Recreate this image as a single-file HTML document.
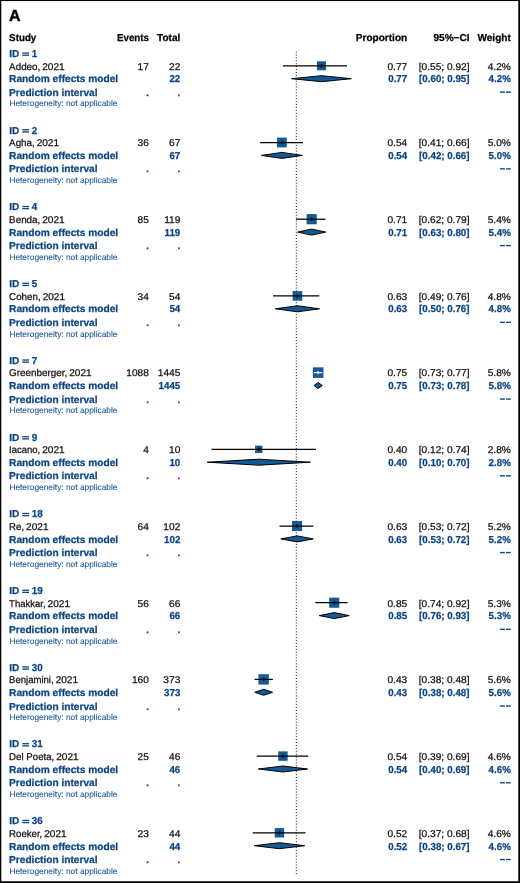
<!DOCTYPE html>
<html><head><meta charset="utf-8"><title>Forest plot</title>
<style>
html,body{margin:0;padding:0;background:#fff;}
body{width:520px;height:883px;overflow:hidden;position:relative;font-family:"Liberation Sans",sans-serif;}
svg{position:absolute;left:0;top:0;display:block;will-change:transform;}
svg text{font-family:"Liberation Sans",sans-serif;text-rendering:geometricPrecision;}
</style></head><body>
<svg width="520" height="883" viewBox="0 0 520 883">
<rect x="0" y="0" width="520" height="883" fill="#fff"/>
<line x1="296.3" x2="296.3" y1="51.6" y2="874.3" stroke="#111" stroke-width="1" stroke-dasharray="1 1.9132"/>
<text x="8.9" y="20.7" font-size="16" font-weight="bold" fill="#000" stroke="#000" stroke-width="0.45">A</text>
<text transform="translate(9.10,41.10) scale(0.975,1)" text-anchor="start" font-size="10.05" font-weight="bold" fill="#000" stroke="#000" stroke-width="0.25">Study</text>
<text transform="translate(148.90,41.10) scale(0.965,1)" text-anchor="end" font-size="10.05" font-weight="bold" fill="#000" stroke="#000" stroke-width="0.25">Events</text>
<text x="180.30" y="41.10" text-anchor="end" font-size="10.05" font-weight="bold" fill="#000" stroke="#000" stroke-width="0.25">Total</text>
<text x="407.20" y="41.10" text-anchor="end" font-size="10.05" font-weight="bold" fill="#000" stroke="#000" stroke-width="0.25">Proportion</text>
<text x="469.50" y="41.10" text-anchor="end" font-size="10.05" font-weight="bold" fill="#000" stroke="#000" stroke-width="0.25">95%&#8722;CI</text>
<text x="510.80" y="41.10" text-anchor="end" font-size="10.05" font-weight="bold" fill="#000" stroke="#000" stroke-width="0.25">Weight</text>
<text x="9.30" y="56.80" text-anchor="start" font-size="10.05" font-weight="bold" fill="#0c4585" stroke="#0c4585" stroke-width="0.25">ID</text>
<text transform="translate(31.70,56.80) scale(0.98,1)" text-anchor="start" font-size="10.05" font-weight="bold" fill="#0c4585" stroke="#0c4585" stroke-width="0.25">1</text>
<rect x="22.3" y="52.40" width="6.7" height="1.3" fill="#0c4585"/>
<rect x="22.3" y="54.55" width="6.7" height="1.3" fill="#0c4585"/>
<text transform="translate(9.10,69.50) scale(1.0042,1)" text-anchor="start" font-size="9.8" fill="#111" stroke="#111" stroke-width="0.25">Addeo,</text>
<text transform="translate(42.25,69.50) scale(1.03,1)" text-anchor="start" font-size="9.8" fill="#111" stroke="#111" stroke-width="0.25">2021</text>
<text transform="translate(148.90,69.50) scale(1.035,1)" text-anchor="end" font-size="9.8" fill="#111" stroke="#111" stroke-width="0.25">17</text>
<text transform="translate(180.30,69.50) scale(1.035,1)" text-anchor="end" font-size="9.8" fill="#111" stroke="#111" stroke-width="0.25">22</text>
<text transform="translate(407.20,69.50) scale(1.035,1)" text-anchor="end" font-size="9.8" fill="#111" stroke="#111" stroke-width="0.25">0.77</text>
<text transform="translate(469.50,69.50) scale(1.035,1)" text-anchor="end" font-size="9.8" fill="#111" stroke="#111" stroke-width="0.25">[0.55; 0.92]</text>
<text transform="translate(510.80,69.50) scale(1.035,1)" text-anchor="end" font-size="9.8" fill="#111" stroke="#111" stroke-width="0.25">4.2%</text>
<text transform="translate(9.10,82.25) scale(1.012,1)" text-anchor="start" font-size="10.05" font-weight="bold" fill="#0c4585" stroke="#0c4585" stroke-width="0.25">Random effects model</text>
<text transform="translate(180.30,82.25) scale(0.97,1)" text-anchor="end" font-size="10.05" font-weight="bold" fill="#0c4585" stroke="#0c4585" stroke-width="0.25">22</text>
<text transform="translate(407.20,82.25) scale(0.97,1)" text-anchor="end" font-size="10.05" font-weight="bold" fill="#0c4585" stroke="#0c4585" stroke-width="0.25">0.77</text>
<text transform="translate(469.50,82.25) scale(0.97,1)" text-anchor="end" font-size="10.05" font-weight="bold" fill="#0c4585" stroke="#0c4585" stroke-width="0.25">[0.60; 0.95]</text>
<text transform="translate(510.80,82.25) scale(0.97,1)" text-anchor="end" font-size="10.05" font-weight="bold" fill="#0c4585" stroke="#0c4585" stroke-width="0.25">4.2%</text>
<text transform="translate(9.10,95.60) scale(1.008,1)" text-anchor="start" font-size="10.05" font-weight="bold" fill="#0c4585" stroke="#0c4585" stroke-width="0.25">Prediction interval</text>
<text transform="translate(148.90,95.60) scale(0.97,1)" text-anchor="end" font-size="10.05" font-weight="bold" fill="#0c4585" stroke="#0c4585" stroke-width="0.25">.</text>
<text transform="translate(180.30,95.60) scale(0.97,1)" text-anchor="end" font-size="10.05" font-weight="bold" fill="#0c4585" stroke="#0c4585" stroke-width="0.25">.</text>
<rect x="499.9" y="91.45" width="5.0" height="1.35" fill="#0c4585"/>
<rect x="506.0" y="91.45" width="4.8" height="1.35" fill="#0c4585"/>
<text x="9.40" y="106.40" font-size="8.36" fill="#1a5696" stroke="#1a5696" stroke-width="0.08">Heterogeneity: not applicable</text>
<rect x="316.99" y="61.29" width="9.02" height="9.02" fill="#145a96"/>
<line x1="282.94" x2="347.04" y1="65.80" y2="65.80" stroke="#000" stroke-width="1.25"/>
<line x1="321.50" x2="321.50" y1="64.10" y2="67.50" stroke="#000" stroke-width="1.25"/>
<polygon points="291.63,78.70 321.50,75.70 351.37,78.70 321.50,81.70" fill="#145a96" stroke="#000" stroke-width="1" stroke-linejoin="miter"/>
<text x="9.30" y="133.54" text-anchor="start" font-size="10.05" font-weight="bold" fill="#0c4585" stroke="#0c4585" stroke-width="0.25">ID</text>
<text transform="translate(31.70,133.54) scale(0.98,1)" text-anchor="start" font-size="10.05" font-weight="bold" fill="#0c4585" stroke="#0c4585" stroke-width="0.25">2</text>
<rect x="22.3" y="129.14" width="6.7" height="1.3" fill="#0c4585"/>
<rect x="22.3" y="131.29" width="6.7" height="1.3" fill="#0c4585"/>
<text transform="translate(9.10,146.24) scale(0.999,1)" text-anchor="start" font-size="9.8" fill="#111" stroke="#111" stroke-width="0.25">Agha,</text>
<text transform="translate(36.65,146.24) scale(1.03,1)" text-anchor="start" font-size="9.8" fill="#111" stroke="#111" stroke-width="0.25">2021</text>
<text transform="translate(148.90,146.24) scale(1.035,1)" text-anchor="end" font-size="9.8" fill="#111" stroke="#111" stroke-width="0.25">36</text>
<text transform="translate(180.30,146.24) scale(1.035,1)" text-anchor="end" font-size="9.8" fill="#111" stroke="#111" stroke-width="0.25">67</text>
<text transform="translate(407.20,146.24) scale(1.035,1)" text-anchor="end" font-size="9.8" fill="#111" stroke="#111" stroke-width="0.25">0.54</text>
<text transform="translate(469.50,146.24) scale(1.035,1)" text-anchor="end" font-size="9.8" fill="#111" stroke="#111" stroke-width="0.25">[0.41; 0.66]</text>
<text transform="translate(510.80,146.24) scale(1.035,1)" text-anchor="end" font-size="9.8" fill="#111" stroke="#111" stroke-width="0.25">5.0%</text>
<text transform="translate(9.10,158.99) scale(1.012,1)" text-anchor="start" font-size="10.05" font-weight="bold" fill="#0c4585" stroke="#0c4585" stroke-width="0.25">Random effects model</text>
<text transform="translate(180.30,158.99) scale(0.97,1)" text-anchor="end" font-size="10.05" font-weight="bold" fill="#0c4585" stroke="#0c4585" stroke-width="0.25">67</text>
<text transform="translate(407.20,158.99) scale(0.97,1)" text-anchor="end" font-size="10.05" font-weight="bold" fill="#0c4585" stroke="#0c4585" stroke-width="0.25">0.54</text>
<text transform="translate(469.50,158.99) scale(0.97,1)" text-anchor="end" font-size="10.05" font-weight="bold" fill="#0c4585" stroke="#0c4585" stroke-width="0.25">[0.42; 0.66]</text>
<text transform="translate(510.80,158.99) scale(0.97,1)" text-anchor="end" font-size="10.05" font-weight="bold" fill="#0c4585" stroke="#0c4585" stroke-width="0.25">5.0%</text>
<text transform="translate(9.10,172.34) scale(1.008,1)" text-anchor="start" font-size="10.05" font-weight="bold" fill="#0c4585" stroke="#0c4585" stroke-width="0.25">Prediction interval</text>
<text transform="translate(148.90,172.34) scale(0.97,1)" text-anchor="end" font-size="10.05" font-weight="bold" fill="#0c4585" stroke="#0c4585" stroke-width="0.25">.</text>
<text transform="translate(180.30,172.34) scale(0.97,1)" text-anchor="end" font-size="10.05" font-weight="bold" fill="#0c4585" stroke="#0c4585" stroke-width="0.25">.</text>
<rect x="499.9" y="168.19" width="5.0" height="1.35" fill="#0c4585"/>
<rect x="506.0" y="168.19" width="4.8" height="1.35" fill="#0c4585"/>
<text x="9.40" y="183.14" font-size="8.36" fill="#1a5696" stroke="#1a5696" stroke-width="0.08">Heterogeneity: not applicable</text>
<rect x="276.96" y="137.58" width="9.84" height="9.84" fill="#145a96"/>
<line x1="260.20" x2="302.98" y1="142.50" y2="142.50" stroke="#000" stroke-width="1.25"/>
<line x1="281.88" x2="281.88" y1="140.80" y2="144.20" stroke="#000" stroke-width="1.25"/>
<polygon points="261.39,155.40 281.88,152.40 302.37,155.40 281.88,158.40" fill="#145a96" stroke="#000" stroke-width="1" stroke-linejoin="miter"/>
<text x="9.30" y="210.28" text-anchor="start" font-size="10.05" font-weight="bold" fill="#0c4585" stroke="#0c4585" stroke-width="0.25">ID</text>
<text transform="translate(31.70,210.28) scale(0.98,1)" text-anchor="start" font-size="10.05" font-weight="bold" fill="#0c4585" stroke="#0c4585" stroke-width="0.25">4</text>
<rect x="22.3" y="205.88" width="6.7" height="1.3" fill="#0c4585"/>
<rect x="22.3" y="208.03" width="6.7" height="1.3" fill="#0c4585"/>
<text transform="translate(9.10,222.98) scale(1.0042,1)" text-anchor="start" font-size="9.8" fill="#111" stroke="#111" stroke-width="0.25">Benda,</text>
<text transform="translate(42.25,222.98) scale(1.03,1)" text-anchor="start" font-size="9.8" fill="#111" stroke="#111" stroke-width="0.25">2021</text>
<text transform="translate(148.90,222.98) scale(1.035,1)" text-anchor="end" font-size="9.8" fill="#111" stroke="#111" stroke-width="0.25">85</text>
<text transform="translate(180.30,222.98) scale(1.035,1)" text-anchor="end" font-size="9.8" fill="#111" stroke="#111" stroke-width="0.25">119</text>
<text transform="translate(407.20,222.98) scale(1.035,1)" text-anchor="end" font-size="9.8" fill="#111" stroke="#111" stroke-width="0.25">0.71</text>
<text transform="translate(469.50,222.98) scale(1.035,1)" text-anchor="end" font-size="9.8" fill="#111" stroke="#111" stroke-width="0.25">[0.62; 0.79]</text>
<text transform="translate(510.80,222.98) scale(1.035,1)" text-anchor="end" font-size="9.8" fill="#111" stroke="#111" stroke-width="0.25">5.4%</text>
<text transform="translate(9.10,235.73) scale(1.012,1)" text-anchor="start" font-size="10.05" font-weight="bold" fill="#0c4585" stroke="#0c4585" stroke-width="0.25">Random effects model</text>
<text transform="translate(180.30,235.73) scale(0.97,1)" text-anchor="end" font-size="10.05" font-weight="bold" fill="#0c4585" stroke="#0c4585" stroke-width="0.25">119</text>
<text transform="translate(407.20,235.73) scale(0.97,1)" text-anchor="end" font-size="10.05" font-weight="bold" fill="#0c4585" stroke="#0c4585" stroke-width="0.25">0.71</text>
<text transform="translate(469.50,235.73) scale(0.97,1)" text-anchor="end" font-size="10.05" font-weight="bold" fill="#0c4585" stroke="#0c4585" stroke-width="0.25">[0.63; 0.80]</text>
<text transform="translate(510.80,235.73) scale(0.97,1)" text-anchor="end" font-size="10.05" font-weight="bold" fill="#0c4585" stroke="#0c4585" stroke-width="0.25">5.4%</text>
<text transform="translate(9.10,249.08) scale(1.008,1)" text-anchor="start" font-size="10.05" font-weight="bold" fill="#0c4585" stroke="#0c4585" stroke-width="0.25">Prediction interval</text>
<text transform="translate(148.90,249.08) scale(0.97,1)" text-anchor="end" font-size="10.05" font-weight="bold" fill="#0c4585" stroke="#0c4585" stroke-width="0.25">.</text>
<text transform="translate(180.30,249.08) scale(0.97,1)" text-anchor="end" font-size="10.05" font-weight="bold" fill="#0c4585" stroke="#0c4585" stroke-width="0.25">.</text>
<rect x="499.9" y="244.93" width="5.0" height="1.35" fill="#0c4585"/>
<rect x="506.0" y="244.93" width="4.8" height="1.35" fill="#0c4585"/>
<text x="9.40" y="259.88" font-size="8.36" fill="#1a5696" stroke="#1a5696" stroke-width="0.08">Heterogeneity: not applicable</text>
<rect x="306.55" y="214.09" width="10.22" height="10.22" fill="#145a96"/>
<line x1="296.06" x2="325.42" y1="219.20" y2="219.20" stroke="#000" stroke-width="1.25"/>
<line x1="311.66" x2="311.66" y1="217.50" y2="220.90" stroke="#000" stroke-width="1.25"/>
<polygon points="297.60,232.10 311.66,229.10 325.72,232.10 311.66,235.10" fill="#145a96" stroke="#000" stroke-width="1" stroke-linejoin="miter"/>
<text x="9.30" y="287.02" text-anchor="start" font-size="10.05" font-weight="bold" fill="#0c4585" stroke="#0c4585" stroke-width="0.25">ID</text>
<text transform="translate(31.70,287.02) scale(0.98,1)" text-anchor="start" font-size="10.05" font-weight="bold" fill="#0c4585" stroke="#0c4585" stroke-width="0.25">5</text>
<rect x="22.3" y="282.62" width="6.7" height="1.3" fill="#0c4585"/>
<rect x="22.3" y="284.77" width="6.7" height="1.3" fill="#0c4585"/>
<text transform="translate(9.10,299.72) scale(0.9994,1)" text-anchor="start" font-size="9.8" fill="#111" stroke="#111" stroke-width="0.25">Cohen,</text>
<text transform="translate(42.65,299.72) scale(1.03,1)" text-anchor="start" font-size="9.8" fill="#111" stroke="#111" stroke-width="0.25">2021</text>
<text transform="translate(148.90,299.72) scale(1.035,1)" text-anchor="end" font-size="9.8" fill="#111" stroke="#111" stroke-width="0.25">34</text>
<text transform="translate(180.30,299.72) scale(1.035,1)" text-anchor="end" font-size="9.8" fill="#111" stroke="#111" stroke-width="0.25">54</text>
<text transform="translate(407.20,299.72) scale(1.035,1)" text-anchor="end" font-size="9.8" fill="#111" stroke="#111" stroke-width="0.25">0.63</text>
<text transform="translate(469.50,299.72) scale(1.035,1)" text-anchor="end" font-size="9.8" fill="#111" stroke="#111" stroke-width="0.25">[0.49; 0.76]</text>
<text transform="translate(510.80,299.72) scale(1.035,1)" text-anchor="end" font-size="9.8" fill="#111" stroke="#111" stroke-width="0.25">4.8%</text>
<text transform="translate(9.10,312.47) scale(1.012,1)" text-anchor="start" font-size="10.05" font-weight="bold" fill="#0c4585" stroke="#0c4585" stroke-width="0.25">Random effects model</text>
<text transform="translate(180.30,312.47) scale(0.97,1)" text-anchor="end" font-size="10.05" font-weight="bold" fill="#0c4585" stroke="#0c4585" stroke-width="0.25">54</text>
<text transform="translate(407.20,312.47) scale(0.97,1)" text-anchor="end" font-size="10.05" font-weight="bold" fill="#0c4585" stroke="#0c4585" stroke-width="0.25">0.63</text>
<text transform="translate(469.50,312.47) scale(0.97,1)" text-anchor="end" font-size="10.05" font-weight="bold" fill="#0c4585" stroke="#0c4585" stroke-width="0.25">[0.50; 0.76]</text>
<text transform="translate(510.80,312.47) scale(0.97,1)" text-anchor="end" font-size="10.05" font-weight="bold" fill="#0c4585" stroke="#0c4585" stroke-width="0.25">4.8%</text>
<text transform="translate(9.10,325.82) scale(1.008,1)" text-anchor="start" font-size="10.05" font-weight="bold" fill="#0c4585" stroke="#0c4585" stroke-width="0.25">Prediction interval</text>
<text transform="translate(148.90,325.82) scale(0.97,1)" text-anchor="end" font-size="10.05" font-weight="bold" fill="#0c4585" stroke="#0c4585" stroke-width="0.25">.</text>
<text transform="translate(180.30,325.82) scale(0.97,1)" text-anchor="end" font-size="10.05" font-weight="bold" fill="#0c4585" stroke="#0c4585" stroke-width="0.25">.</text>
<rect x="499.9" y="321.67" width="5.0" height="1.35" fill="#0c4585"/>
<rect x="506.0" y="321.67" width="4.8" height="1.35" fill="#0c4585"/>
<text x="9.40" y="336.62" font-size="8.36" fill="#1a5696" stroke="#1a5696" stroke-width="0.08">Heterogeneity: not applicable</text>
<rect x="292.60" y="291.08" width="9.64" height="9.64" fill="#145a96"/>
<line x1="273.03" x2="319.32" y1="295.90" y2="295.90" stroke="#000" stroke-width="1.25"/>
<line x1="297.42" x2="297.42" y1="294.20" y2="297.60" stroke="#000" stroke-width="1.25"/>
<polygon points="275.34,308.80 297.42,305.80 319.49,308.80 297.42,311.80" fill="#145a96" stroke="#000" stroke-width="1" stroke-linejoin="miter"/>
<text x="9.30" y="363.76" text-anchor="start" font-size="10.05" font-weight="bold" fill="#0c4585" stroke="#0c4585" stroke-width="0.25">ID</text>
<text transform="translate(31.70,363.76) scale(0.98,1)" text-anchor="start" font-size="10.05" font-weight="bold" fill="#0c4585" stroke="#0c4585" stroke-width="0.25">7</text>
<rect x="22.3" y="359.36" width="6.7" height="1.3" fill="#0c4585"/>
<rect x="22.3" y="361.51" width="6.7" height="1.3" fill="#0c4585"/>
<text transform="translate(9.10,376.46) scale(1.0076,1)" text-anchor="start" font-size="9.8" fill="#111" stroke="#111" stroke-width="0.25">Greenberger,</text>
<text transform="translate(69.25,376.46) scale(1.03,1)" text-anchor="start" font-size="9.8" fill="#111" stroke="#111" stroke-width="0.25">2021</text>
<text transform="translate(148.90,376.46) scale(1.035,1)" text-anchor="end" font-size="9.8" fill="#111" stroke="#111" stroke-width="0.25">1088</text>
<text transform="translate(180.30,376.46) scale(1.035,1)" text-anchor="end" font-size="9.8" fill="#111" stroke="#111" stroke-width="0.25">1445</text>
<text transform="translate(407.20,376.46) scale(1.035,1)" text-anchor="end" font-size="9.8" fill="#111" stroke="#111" stroke-width="0.25">0.75</text>
<text transform="translate(469.50,376.46) scale(1.035,1)" text-anchor="end" font-size="9.8" fill="#111" stroke="#111" stroke-width="0.25">[0.73; 0.77]</text>
<text transform="translate(510.80,376.46) scale(1.035,1)" text-anchor="end" font-size="9.8" fill="#111" stroke="#111" stroke-width="0.25">5.8%</text>
<text transform="translate(9.10,389.21) scale(1.012,1)" text-anchor="start" font-size="10.05" font-weight="bold" fill="#0c4585" stroke="#0c4585" stroke-width="0.25">Random effects model</text>
<text transform="translate(180.30,389.21) scale(0.97,1)" text-anchor="end" font-size="10.05" font-weight="bold" fill="#0c4585" stroke="#0c4585" stroke-width="0.25">1445</text>
<text transform="translate(407.20,389.21) scale(0.97,1)" text-anchor="end" font-size="10.05" font-weight="bold" fill="#0c4585" stroke="#0c4585" stroke-width="0.25">0.75</text>
<text transform="translate(469.50,389.21) scale(0.97,1)" text-anchor="end" font-size="10.05" font-weight="bold" fill="#0c4585" stroke="#0c4585" stroke-width="0.25">[0.73; 0.78]</text>
<text transform="translate(510.80,389.21) scale(0.97,1)" text-anchor="end" font-size="10.05" font-weight="bold" fill="#0c4585" stroke="#0c4585" stroke-width="0.25">5.8%</text>
<text transform="translate(9.10,402.56) scale(1.008,1)" text-anchor="start" font-size="10.05" font-weight="bold" fill="#0c4585" stroke="#0c4585" stroke-width="0.25">Prediction interval</text>
<text transform="translate(148.90,402.56) scale(0.97,1)" text-anchor="end" font-size="10.05" font-weight="bold" fill="#0c4585" stroke="#0c4585" stroke-width="0.25">.</text>
<text transform="translate(180.30,402.56) scale(0.97,1)" text-anchor="end" font-size="10.05" font-weight="bold" fill="#0c4585" stroke="#0c4585" stroke-width="0.25">.</text>
<rect x="499.9" y="398.41" width="5.0" height="1.35" fill="#0c4585"/>
<rect x="506.0" y="398.41" width="4.8" height="1.35" fill="#0c4585"/>
<text x="9.40" y="413.36" font-size="8.36" fill="#1a5696" stroke="#1a5696" stroke-width="0.08">Heterogeneity: not applicable</text>
<rect x="312.87" y="367.30" width="10.60" height="10.60" fill="#145a96"/>
<line x1="313.83" x2="322.33" y1="372.60" y2="372.60" stroke="#fff" stroke-width="1.25"/>
<line x1="318.17" x2="318.17" y1="370.90" y2="374.30" stroke="#fff" stroke-width="1.25"/>
<polygon points="314.03,385.50 318.17,382.50 322.31,385.50 318.17,388.50" fill="#145a96" stroke="#000" stroke-width="1" stroke-linejoin="miter"/>
<text x="9.30" y="440.50" text-anchor="start" font-size="10.05" font-weight="bold" fill="#0c4585" stroke="#0c4585" stroke-width="0.25">ID</text>
<text transform="translate(31.70,440.50) scale(0.98,1)" text-anchor="start" font-size="10.05" font-weight="bold" fill="#0c4585" stroke="#0c4585" stroke-width="0.25">9</text>
<rect x="22.3" y="436.10" width="6.7" height="1.3" fill="#0c4585"/>
<rect x="22.3" y="438.25" width="6.7" height="1.3" fill="#0c4585"/>
<text transform="translate(9.10,453.20) scale(0.9692,1)" text-anchor="start" font-size="9.8" fill="#111" stroke="#111" stroke-width="0.25">Iacano,</text>
<text transform="translate(42.25,453.20) scale(1.03,1)" text-anchor="start" font-size="9.8" fill="#111" stroke="#111" stroke-width="0.25">2021</text>
<text transform="translate(148.90,453.20) scale(1.035,1)" text-anchor="end" font-size="9.8" fill="#111" stroke="#111" stroke-width="0.25">4</text>
<text transform="translate(180.30,453.20) scale(1.035,1)" text-anchor="end" font-size="9.8" fill="#111" stroke="#111" stroke-width="0.25">10</text>
<text transform="translate(407.20,453.20) scale(1.035,1)" text-anchor="end" font-size="9.8" fill="#111" stroke="#111" stroke-width="0.25">0.40</text>
<text transform="translate(469.50,453.20) scale(1.035,1)" text-anchor="end" font-size="9.8" fill="#111" stroke="#111" stroke-width="0.25">[0.12; 0.74]</text>
<text transform="translate(510.80,453.20) scale(1.035,1)" text-anchor="end" font-size="9.8" fill="#111" stroke="#111" stroke-width="0.25">2.8%</text>
<text transform="translate(9.10,465.95) scale(1.012,1)" text-anchor="start" font-size="10.05" font-weight="bold" fill="#0c4585" stroke="#0c4585" stroke-width="0.25">Random effects model</text>
<text transform="translate(180.30,465.95) scale(0.97,1)" text-anchor="end" font-size="10.05" font-weight="bold" fill="#0c4585" stroke="#0c4585" stroke-width="0.25">10</text>
<text transform="translate(407.20,465.95) scale(0.97,1)" text-anchor="end" font-size="10.05" font-weight="bold" fill="#0c4585" stroke="#0c4585" stroke-width="0.25">0.40</text>
<text transform="translate(469.50,465.95) scale(0.97,1)" text-anchor="end" font-size="10.05" font-weight="bold" fill="#0c4585" stroke="#0c4585" stroke-width="0.25">[0.10; 0.70]</text>
<text transform="translate(510.80,465.95) scale(0.97,1)" text-anchor="end" font-size="10.05" font-weight="bold" fill="#0c4585" stroke="#0c4585" stroke-width="0.25">2.8%</text>
<text transform="translate(9.10,479.30) scale(1.008,1)" text-anchor="start" font-size="10.05" font-weight="bold" fill="#0c4585" stroke="#0c4585" stroke-width="0.25">Prediction interval</text>
<text transform="translate(148.90,479.30) scale(0.97,1)" text-anchor="end" font-size="10.05" font-weight="bold" fill="#0c4585" stroke="#0c4585" stroke-width="0.25">.</text>
<text transform="translate(180.30,479.30) scale(0.97,1)" text-anchor="end" font-size="10.05" font-weight="bold" fill="#0c4585" stroke="#0c4585" stroke-width="0.25">.</text>
<rect x="499.9" y="475.15" width="5.0" height="1.35" fill="#0c4585"/>
<rect x="506.0" y="475.15" width="4.8" height="1.35" fill="#0c4585"/>
<text x="9.40" y="490.10" font-size="8.36" fill="#1a5696" stroke="#1a5696" stroke-width="0.08">Heterogeneity: not applicable</text>
<rect x="255.09" y="445.62" width="7.36" height="7.36" fill="#145a96"/>
<line x1="211.46" x2="316.04" y1="449.30" y2="449.30" stroke="#000" stroke-width="1.25"/>
<line x1="258.77" x2="258.77" y1="447.60" y2="451.00" stroke="#000" stroke-width="1.25"/>
<polygon points="207.27,462.20 258.77,459.20 310.27,462.20 258.77,465.20" fill="#145a96" stroke="#000" stroke-width="1" stroke-linejoin="miter"/>
<text x="9.30" y="517.24" text-anchor="start" font-size="10.05" font-weight="bold" fill="#0c4585" stroke="#0c4585" stroke-width="0.25">ID</text>
<text transform="translate(31.70,517.24) scale(0.98,1)" text-anchor="start" font-size="10.05" font-weight="bold" fill="#0c4585" stroke="#0c4585" stroke-width="0.25">18</text>
<rect x="22.3" y="512.84" width="6.7" height="1.3" fill="#0c4585"/>
<rect x="22.3" y="514.99" width="6.7" height="1.3" fill="#0c4585"/>
<text transform="translate(9.10,529.94) scale(0.9814,1)" text-anchor="start" font-size="9.8" fill="#111" stroke="#111" stroke-width="0.25">Re,</text>
<text transform="translate(26.05,529.94) scale(1.03,1)" text-anchor="start" font-size="9.8" fill="#111" stroke="#111" stroke-width="0.25">2021</text>
<text transform="translate(148.90,529.94) scale(1.035,1)" text-anchor="end" font-size="9.8" fill="#111" stroke="#111" stroke-width="0.25">64</text>
<text transform="translate(180.30,529.94) scale(1.035,1)" text-anchor="end" font-size="9.8" fill="#111" stroke="#111" stroke-width="0.25">102</text>
<text transform="translate(407.20,529.94) scale(1.035,1)" text-anchor="end" font-size="9.8" fill="#111" stroke="#111" stroke-width="0.25">0.63</text>
<text transform="translate(469.50,529.94) scale(1.035,1)" text-anchor="end" font-size="9.8" fill="#111" stroke="#111" stroke-width="0.25">[0.53; 0.72]</text>
<text transform="translate(510.80,529.94) scale(1.035,1)" text-anchor="end" font-size="9.8" fill="#111" stroke="#111" stroke-width="0.25">5.2%</text>
<text transform="translate(9.10,542.69) scale(1.012,1)" text-anchor="start" font-size="10.05" font-weight="bold" fill="#0c4585" stroke="#0c4585" stroke-width="0.25">Random effects model</text>
<text transform="translate(180.30,542.69) scale(0.97,1)" text-anchor="end" font-size="10.05" font-weight="bold" fill="#0c4585" stroke="#0c4585" stroke-width="0.25">102</text>
<text transform="translate(407.20,542.69) scale(0.97,1)" text-anchor="end" font-size="10.05" font-weight="bold" fill="#0c4585" stroke="#0c4585" stroke-width="0.25">0.63</text>
<text transform="translate(469.50,542.69) scale(0.97,1)" text-anchor="end" font-size="10.05" font-weight="bold" fill="#0c4585" stroke="#0c4585" stroke-width="0.25">[0.53; 0.72]</text>
<text transform="translate(510.80,542.69) scale(0.97,1)" text-anchor="end" font-size="10.05" font-weight="bold" fill="#0c4585" stroke="#0c4585" stroke-width="0.25">5.2%</text>
<text transform="translate(9.10,556.04) scale(1.008,1)" text-anchor="start" font-size="10.05" font-weight="bold" fill="#0c4585" stroke="#0c4585" stroke-width="0.25">Prediction interval</text>
<text transform="translate(148.90,556.04) scale(0.97,1)" text-anchor="end" font-size="10.05" font-weight="bold" fill="#0c4585" stroke="#0c4585" stroke-width="0.25">.</text>
<text transform="translate(180.30,556.04) scale(0.97,1)" text-anchor="end" font-size="10.05" font-weight="bold" fill="#0c4585" stroke="#0c4585" stroke-width="0.25">.</text>
<rect x="499.9" y="551.89" width="5.0" height="1.35" fill="#0c4585"/>
<rect x="506.0" y="551.89" width="4.8" height="1.35" fill="#0c4585"/>
<text x="9.40" y="566.84" font-size="8.36" fill="#1a5696" stroke="#1a5696" stroke-width="0.08">Heterogeneity: not applicable</text>
<rect x="292.03" y="520.98" width="10.03" height="10.03" fill="#145a96"/>
<line x1="279.55" x2="313.27" y1="526.00" y2="526.00" stroke="#000" stroke-width="1.25"/>
<line x1="297.05" x2="297.05" y1="524.30" y2="527.70" stroke="#000" stroke-width="1.25"/>
<polygon points="280.86,538.90 297.05,535.90 313.24,538.90 297.05,541.90" fill="#145a96" stroke="#000" stroke-width="1" stroke-linejoin="miter"/>
<text x="9.30" y="593.98" text-anchor="start" font-size="10.05" font-weight="bold" fill="#0c4585" stroke="#0c4585" stroke-width="0.25">ID</text>
<text transform="translate(31.70,593.98) scale(0.98,1)" text-anchor="start" font-size="10.05" font-weight="bold" fill="#0c4585" stroke="#0c4585" stroke-width="0.25">19</text>
<rect x="22.3" y="589.58" width="6.7" height="1.3" fill="#0c4585"/>
<rect x="22.3" y="591.73" width="6.7" height="1.3" fill="#0c4585"/>
<text transform="translate(9.10,606.68) scale(0.97,1)" text-anchor="start" font-size="9.8" fill="#111" stroke="#111" stroke-width="0.25">Thakkar,</text>
<text transform="translate(47.55,606.68) scale(1.03,1)" text-anchor="start" font-size="9.8" fill="#111" stroke="#111" stroke-width="0.25">2021</text>
<text transform="translate(148.90,606.68) scale(1.035,1)" text-anchor="end" font-size="9.8" fill="#111" stroke="#111" stroke-width="0.25">56</text>
<text transform="translate(180.30,606.68) scale(1.035,1)" text-anchor="end" font-size="9.8" fill="#111" stroke="#111" stroke-width="0.25">66</text>
<text transform="translate(407.20,606.68) scale(1.035,1)" text-anchor="end" font-size="9.8" fill="#111" stroke="#111" stroke-width="0.25">0.85</text>
<text transform="translate(469.50,606.68) scale(1.035,1)" text-anchor="end" font-size="9.8" fill="#111" stroke="#111" stroke-width="0.25">[0.74; 0.92]</text>
<text transform="translate(510.80,606.68) scale(1.035,1)" text-anchor="end" font-size="9.8" fill="#111" stroke="#111" stroke-width="0.25">5.3%</text>
<text transform="translate(9.10,619.43) scale(1.012,1)" text-anchor="start" font-size="10.05" font-weight="bold" fill="#0c4585" stroke="#0c4585" stroke-width="0.25">Random effects model</text>
<text transform="translate(180.30,619.43) scale(0.97,1)" text-anchor="end" font-size="10.05" font-weight="bold" fill="#0c4585" stroke="#0c4585" stroke-width="0.25">66</text>
<text transform="translate(407.20,619.43) scale(0.97,1)" text-anchor="end" font-size="10.05" font-weight="bold" fill="#0c4585" stroke="#0c4585" stroke-width="0.25">0.85</text>
<text transform="translate(469.50,619.43) scale(0.97,1)" text-anchor="end" font-size="10.05" font-weight="bold" fill="#0c4585" stroke="#0c4585" stroke-width="0.25">[0.76; 0.93]</text>
<text transform="translate(510.80,619.43) scale(0.97,1)" text-anchor="end" font-size="10.05" font-weight="bold" fill="#0c4585" stroke="#0c4585" stroke-width="0.25">5.3%</text>
<text transform="translate(9.10,632.78) scale(1.008,1)" text-anchor="start" font-size="10.05" font-weight="bold" fill="#0c4585" stroke="#0c4585" stroke-width="0.25">Prediction interval</text>
<text transform="translate(148.90,632.78) scale(0.97,1)" text-anchor="end" font-size="10.05" font-weight="bold" fill="#0c4585" stroke="#0c4585" stroke-width="0.25">.</text>
<text transform="translate(180.30,632.78) scale(0.97,1)" text-anchor="end" font-size="10.05" font-weight="bold" fill="#0c4585" stroke="#0c4585" stroke-width="0.25">.</text>
<rect x="499.9" y="628.63" width="5.0" height="1.35" fill="#0c4585"/>
<rect x="506.0" y="628.63" width="4.8" height="1.35" fill="#0c4585"/>
<text x="9.40" y="643.58" font-size="8.36" fill="#1a5696" stroke="#1a5696" stroke-width="0.08">Heterogeneity: not applicable</text>
<rect x="329.19" y="597.64" width="10.13" height="10.13" fill="#145a96"/>
<line x1="315.37" x2="347.56" y1="602.70" y2="602.70" stroke="#000" stroke-width="1.25"/>
<line x1="334.25" x2="334.25" y1="601.00" y2="604.40" stroke="#000" stroke-width="1.25"/>
<polygon points="319.29,615.60 334.25,612.60 349.21,615.60 334.25,618.60" fill="#145a96" stroke="#000" stroke-width="1" stroke-linejoin="miter"/>
<text x="9.30" y="670.72" text-anchor="start" font-size="10.05" font-weight="bold" fill="#0c4585" stroke="#0c4585" stroke-width="0.25">ID</text>
<text transform="translate(31.70,670.72) scale(0.98,1)" text-anchor="start" font-size="10.05" font-weight="bold" fill="#0c4585" stroke="#0c4585" stroke-width="0.25">30</text>
<rect x="22.3" y="666.32" width="6.7" height="1.3" fill="#0c4585"/>
<rect x="22.3" y="668.47" width="6.7" height="1.3" fill="#0c4585"/>
<text transform="translate(9.10,683.42) scale(0.9738,1)" text-anchor="start" font-size="9.8" fill="#111" stroke="#111" stroke-width="0.25">Benjamini,</text>
<text transform="translate(55.65,683.42) scale(1.03,1)" text-anchor="start" font-size="9.8" fill="#111" stroke="#111" stroke-width="0.25">2021</text>
<text transform="translate(148.90,683.42) scale(1.035,1)" text-anchor="end" font-size="9.8" fill="#111" stroke="#111" stroke-width="0.25">160</text>
<text transform="translate(180.30,683.42) scale(1.035,1)" text-anchor="end" font-size="9.8" fill="#111" stroke="#111" stroke-width="0.25">373</text>
<text transform="translate(407.20,683.42) scale(1.035,1)" text-anchor="end" font-size="9.8" fill="#111" stroke="#111" stroke-width="0.25">0.43</text>
<text transform="translate(469.50,683.42) scale(1.035,1)" text-anchor="end" font-size="9.8" fill="#111" stroke="#111" stroke-width="0.25">[0.38; 0.48]</text>
<text transform="translate(510.80,683.42) scale(1.035,1)" text-anchor="end" font-size="9.8" fill="#111" stroke="#111" stroke-width="0.25">5.6%</text>
<text transform="translate(9.10,696.17) scale(1.012,1)" text-anchor="start" font-size="10.05" font-weight="bold" fill="#0c4585" stroke="#0c4585" stroke-width="0.25">Random effects model</text>
<text transform="translate(180.30,696.17) scale(0.97,1)" text-anchor="end" font-size="10.05" font-weight="bold" fill="#0c4585" stroke="#0c4585" stroke-width="0.25">373</text>
<text transform="translate(407.20,696.17) scale(0.97,1)" text-anchor="end" font-size="10.05" font-weight="bold" fill="#0c4585" stroke="#0c4585" stroke-width="0.25">0.43</text>
<text transform="translate(469.50,696.17) scale(0.97,1)" text-anchor="end" font-size="10.05" font-weight="bold" fill="#0c4585" stroke="#0c4585" stroke-width="0.25">[0.38; 0.48]</text>
<text transform="translate(510.80,696.17) scale(0.97,1)" text-anchor="end" font-size="10.05" font-weight="bold" fill="#0c4585" stroke="#0c4585" stroke-width="0.25">5.6%</text>
<text transform="translate(9.10,709.52) scale(1.008,1)" text-anchor="start" font-size="10.05" font-weight="bold" fill="#0c4585" stroke="#0c4585" stroke-width="0.25">Prediction interval</text>
<text transform="translate(148.90,709.52) scale(0.97,1)" text-anchor="end" font-size="10.05" font-weight="bold" fill="#0c4585" stroke="#0c4585" stroke-width="0.25">.</text>
<text transform="translate(180.30,709.52) scale(0.97,1)" text-anchor="end" font-size="10.05" font-weight="bold" fill="#0c4585" stroke="#0c4585" stroke-width="0.25">.</text>
<rect x="499.9" y="705.37" width="5.0" height="1.35" fill="#0c4585"/>
<rect x="506.0" y="705.37" width="4.8" height="1.35" fill="#0c4585"/>
<text x="9.40" y="720.32" font-size="8.36" fill="#1a5696" stroke="#1a5696" stroke-width="0.08">Heterogeneity: not applicable</text>
<rect x="258.44" y="674.19" width="10.41" height="10.41" fill="#145a96"/>
<line x1="254.64" x2="272.84" y1="679.40" y2="679.40" stroke="#000" stroke-width="1.25"/>
<line x1="263.64" x2="263.64" y1="677.70" y2="681.10" stroke="#000" stroke-width="1.25"/>
<polygon points="254.79,692.30 263.64,689.30 272.50,692.30 263.64,695.30" fill="#145a96" stroke="#000" stroke-width="1" stroke-linejoin="miter"/>
<text x="9.30" y="747.46" text-anchor="start" font-size="10.05" font-weight="bold" fill="#0c4585" stroke="#0c4585" stroke-width="0.25">ID</text>
<text transform="translate(31.70,747.46) scale(0.98,1)" text-anchor="start" font-size="10.05" font-weight="bold" fill="#0c4585" stroke="#0c4585" stroke-width="0.25">31</text>
<rect x="22.3" y="743.06" width="6.7" height="1.3" fill="#0c4585"/>
<rect x="22.3" y="745.21" width="6.7" height="1.3" fill="#0c4585"/>
<text transform="translate(9.10,760.16) scale(0.9871,1)" text-anchor="start" font-size="9.8" fill="#111" stroke="#111" stroke-width="0.25">Del Poeta,</text>
<text transform="translate(56.25,760.16) scale(1.03,1)" text-anchor="start" font-size="9.8" fill="#111" stroke="#111" stroke-width="0.25">2021</text>
<text transform="translate(148.90,760.16) scale(1.035,1)" text-anchor="end" font-size="9.8" fill="#111" stroke="#111" stroke-width="0.25">25</text>
<text transform="translate(180.30,760.16) scale(1.035,1)" text-anchor="end" font-size="9.8" fill="#111" stroke="#111" stroke-width="0.25">46</text>
<text transform="translate(407.20,760.16) scale(1.035,1)" text-anchor="end" font-size="9.8" fill="#111" stroke="#111" stroke-width="0.25">0.54</text>
<text transform="translate(469.50,760.16) scale(1.035,1)" text-anchor="end" font-size="9.8" fill="#111" stroke="#111" stroke-width="0.25">[0.39; 0.69]</text>
<text transform="translate(510.80,760.16) scale(1.035,1)" text-anchor="end" font-size="9.8" fill="#111" stroke="#111" stroke-width="0.25">4.6%</text>
<text transform="translate(9.10,772.91) scale(1.012,1)" text-anchor="start" font-size="10.05" font-weight="bold" fill="#0c4585" stroke="#0c4585" stroke-width="0.25">Random effects model</text>
<text transform="translate(180.30,772.91) scale(0.97,1)" text-anchor="end" font-size="10.05" font-weight="bold" fill="#0c4585" stroke="#0c4585" stroke-width="0.25">46</text>
<text transform="translate(407.20,772.91) scale(0.97,1)" text-anchor="end" font-size="10.05" font-weight="bold" fill="#0c4585" stroke="#0c4585" stroke-width="0.25">0.54</text>
<text transform="translate(469.50,772.91) scale(0.97,1)" text-anchor="end" font-size="10.05" font-weight="bold" fill="#0c4585" stroke="#0c4585" stroke-width="0.25">[0.40; 0.69]</text>
<text transform="translate(510.80,772.91) scale(0.97,1)" text-anchor="end" font-size="10.05" font-weight="bold" fill="#0c4585" stroke="#0c4585" stroke-width="0.25">4.6%</text>
<text transform="translate(9.10,786.26) scale(1.008,1)" text-anchor="start" font-size="10.05" font-weight="bold" fill="#0c4585" stroke="#0c4585" stroke-width="0.25">Prediction interval</text>
<text transform="translate(148.90,786.26) scale(0.97,1)" text-anchor="end" font-size="10.05" font-weight="bold" fill="#0c4585" stroke="#0c4585" stroke-width="0.25">.</text>
<text transform="translate(180.30,786.26) scale(0.97,1)" text-anchor="end" font-size="10.05" font-weight="bold" fill="#0c4585" stroke="#0c4585" stroke-width="0.25">.</text>
<rect x="499.9" y="782.11" width="5.0" height="1.35" fill="#0c4585"/>
<rect x="506.0" y="782.11" width="4.8" height="1.35" fill="#0c4585"/>
<text x="9.40" y="797.06" font-size="8.36" fill="#1a5696" stroke="#1a5696" stroke-width="0.08">Heterogeneity: not applicable</text>
<rect x="278.20" y="751.38" width="9.44" height="9.44" fill="#145a96"/>
<line x1="256.66" x2="308.20" y1="756.10" y2="756.10" stroke="#000" stroke-width="1.25"/>
<line x1="282.92" x2="282.92" y1="754.40" y2="757.80" stroke="#000" stroke-width="1.25"/>
<polygon points="258.29,769.00 282.92,766.00 307.54,769.00 282.92,772.00" fill="#145a96" stroke="#000" stroke-width="1" stroke-linejoin="miter"/>
<text x="9.30" y="824.20" text-anchor="start" font-size="10.05" font-weight="bold" fill="#0c4585" stroke="#0c4585" stroke-width="0.25">ID</text>
<text transform="translate(31.70,824.20) scale(0.98,1)" text-anchor="start" font-size="10.05" font-weight="bold" fill="#0c4585" stroke="#0c4585" stroke-width="0.25">36</text>
<rect x="22.3" y="819.80" width="6.7" height="1.3" fill="#0c4585"/>
<rect x="22.3" y="821.95" width="6.7" height="1.3" fill="#0c4585"/>
<text transform="translate(9.10,836.90) scale(0.982,1)" text-anchor="start" font-size="9.8" fill="#111" stroke="#111" stroke-width="0.25">Roeker,</text>
<text transform="translate(44.25,836.90) scale(1.03,1)" text-anchor="start" font-size="9.8" fill="#111" stroke="#111" stroke-width="0.25">2021</text>
<text transform="translate(148.90,836.90) scale(1.035,1)" text-anchor="end" font-size="9.8" fill="#111" stroke="#111" stroke-width="0.25">23</text>
<text transform="translate(180.30,836.90) scale(1.035,1)" text-anchor="end" font-size="9.8" fill="#111" stroke="#111" stroke-width="0.25">44</text>
<text transform="translate(407.20,836.90) scale(1.035,1)" text-anchor="end" font-size="9.8" fill="#111" stroke="#111" stroke-width="0.25">0.52</text>
<text transform="translate(469.50,836.90) scale(1.035,1)" text-anchor="end" font-size="9.8" fill="#111" stroke="#111" stroke-width="0.25">[0.37; 0.68]</text>
<text transform="translate(510.80,836.90) scale(1.035,1)" text-anchor="end" font-size="9.8" fill="#111" stroke="#111" stroke-width="0.25">4.6%</text>
<text transform="translate(9.10,849.65) scale(1.012,1)" text-anchor="start" font-size="10.05" font-weight="bold" fill="#0c4585" stroke="#0c4585" stroke-width="0.25">Random effects model</text>
<text transform="translate(180.30,849.65) scale(0.97,1)" text-anchor="end" font-size="10.05" font-weight="bold" fill="#0c4585" stroke="#0c4585" stroke-width="0.25">44</text>
<text transform="translate(407.20,849.65) scale(0.97,1)" text-anchor="end" font-size="10.05" font-weight="bold" fill="#0c4585" stroke="#0c4585" stroke-width="0.25">0.52</text>
<text transform="translate(469.50,849.65) scale(0.97,1)" text-anchor="end" font-size="10.05" font-weight="bold" fill="#0c4585" stroke="#0c4585" stroke-width="0.25">[0.38; 0.67]</text>
<text transform="translate(510.80,849.65) scale(0.97,1)" text-anchor="end" font-size="10.05" font-weight="bold" fill="#0c4585" stroke="#0c4585" stroke-width="0.25">4.6%</text>
<text transform="translate(9.10,863.00) scale(1.008,1)" text-anchor="start" font-size="10.05" font-weight="bold" fill="#0c4585" stroke="#0c4585" stroke-width="0.25">Prediction interval</text>
<text transform="translate(148.90,863.00) scale(0.97,1)" text-anchor="end" font-size="10.05" font-weight="bold" fill="#0c4585" stroke="#0c4585" stroke-width="0.25">.</text>
<text transform="translate(180.30,863.00) scale(0.97,1)" text-anchor="end" font-size="10.05" font-weight="bold" fill="#0c4585" stroke="#0c4585" stroke-width="0.25">.</text>
<rect x="499.9" y="858.85" width="5.0" height="1.35" fill="#0c4585"/>
<rect x="506.0" y="858.85" width="4.8" height="1.35" fill="#0c4585"/>
<text x="9.40" y="873.80" font-size="8.36" fill="#1a5696" stroke="#1a5696" stroke-width="0.08">Heterogeneity: not applicable</text>
<rect x="274.71" y="828.08" width="9.44" height="9.44" fill="#145a96"/>
<line x1="252.75" x2="305.57" y1="832.80" y2="832.80" stroke="#000" stroke-width="1.25"/>
<line x1="279.43" x2="279.43" y1="831.10" y2="834.50" stroke="#000" stroke-width="1.25"/>
<polygon points="254.19,845.70 279.43,842.70 304.66,845.70 279.43,848.70" fill="#145a96" stroke="#000" stroke-width="1" stroke-linejoin="miter"/>
<rect x="0" y="0" width="520" height="1.05" fill="#000"/>
<rect x="0" y="0" width="1.3" height="883" fill="#000"/>
<rect x="518.3" y="0" width="1.7" height="883" fill="#000"/>
<rect x="0" y="881.25" width="520" height="1.75" fill="#000"/>
</svg>
</body></html>
